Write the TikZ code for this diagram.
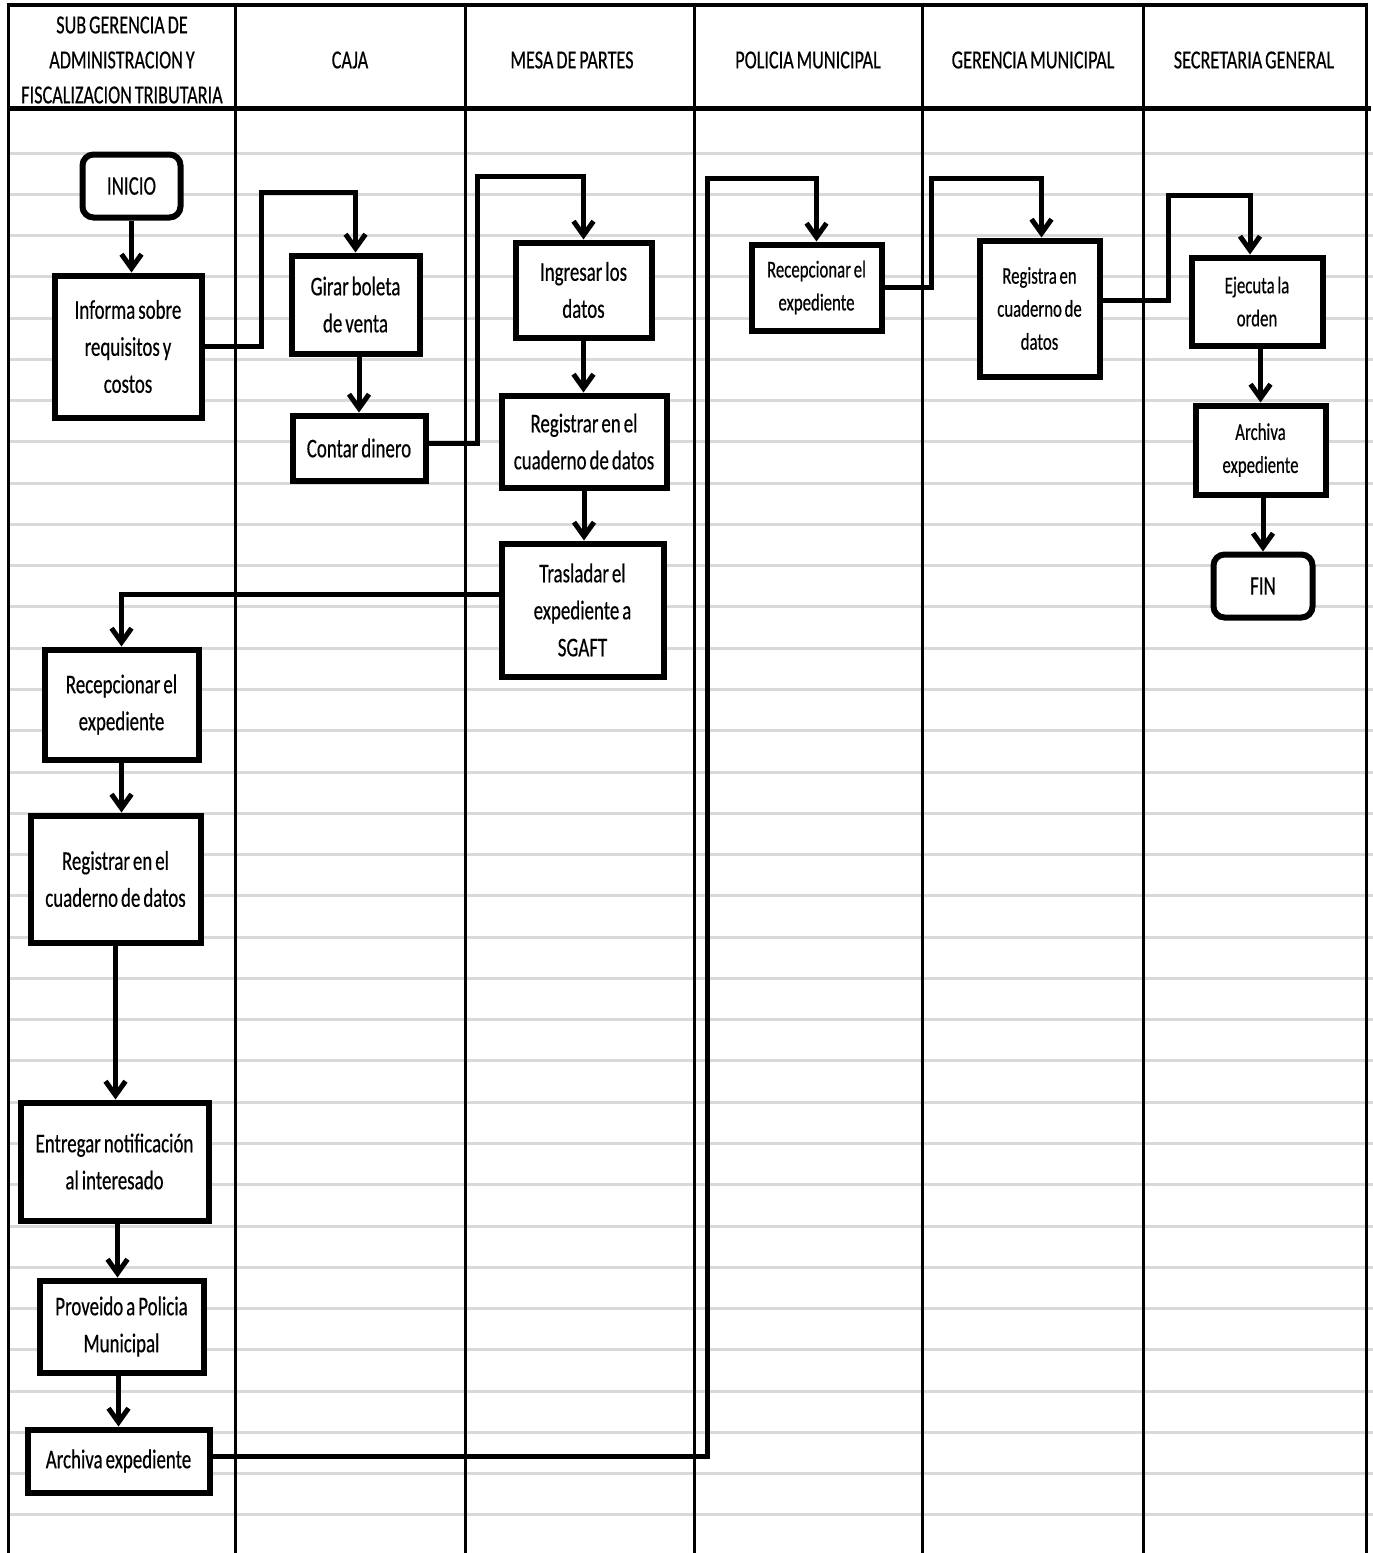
\documentclass[tikz,border=0pt]{standalone}
\usepackage{fontspec}
\setmainfont{Carlito}[FakeStretch=0.7, WordSpace=0.7, FakeBold=0.4]
\usetikzlibrary{arrows.meta}

\tikzset{
  gridline/.style={line width=3pt, draw=black!15},
  laneline/.style={line width=3pt, draw=black},
  headtext/.style={font=\fontsize{26}{35}\selectfont, align=center, inner sep=0pt},
  procbox/.style={draw=black, line width=6pt, fill=white, align=center, inner sep=0pt,
    font=\fontsize{27}{37}\selectfont},
  smallbox/.style={procbox, font=\fontsize{24}{33}\selectfont},
  termbox/.style={procbox, rounded corners=11pt},
  flow/.style={draw=black, line width=5pt,
    -{Straight Barb[length=14pt, width=20pt]}},
}

\begin{document}
\begin{tikzpicture}[x=1pt, y=-1pt]
\useasboundingbox (0,0) rectangle (1373,1553);
\fill[white] (0,0) rectangle (1373,1553);

% ruled background
\foreach \k in {0,...,33}
  \draw[gridline] (9,{153+41.27*\k}) -- (1373,{153+41.27*\k});

% swimlane frame
\foreach \xx in {8,235,465,694,922,1143,1366}
  \draw[laneline] (\xx,5) -- (\xx,1553);
\draw[line width=4pt] (6.5,5) -- (1367.5,5);
\draw[line width=5pt] (6.5,108) -- (1371,108);

% lane titles
\node[headtext] (h1) at (122,60) {SUB GERENCIA DE\\ADMINISTRACION Y\\FISCALIZACION TRIBUTARIA};
\node[headtext] (h2) at (350,60) {CAJA};
\node[headtext] (h3) at (572,60) {MESA DE PARTES};
\node[headtext] (h4) at (808,60) {POLICIA MUNICIPAL};
\node[headtext] (h5) at (1033,60) {GERENCIA MUNICIPAL};
\node[headtext] (h6) at (1254,60) {SECRETARIA GENERAL};

% process steps
\node[termbox, minimum width=98pt, minimum height=63pt] (inicio) at (131.5,186) {INICIO};
\node[procbox, minimum width=147pt, minimum height=142pt] (informa) at (128,346.5) {Informa sobre\\requisitos y\\costos};
\node[procbox, minimum width=128pt, minimum height=98pt] (girar) at (355.5,304.5) {Girar boleta\\de venta};
\node[procbox, minimum width=133pt, minimum height=65pt] (contar) at (359,448) {Contar dinero};
\node[procbox, minimum width=136pt, minimum height=95pt] (ingresar) at (583.5,290) {Ingresar los\\datos};
\node[procbox, minimum width=165pt, minimum height=92pt] (regmesa) at (584,441.5) {Registrar en el\\cuaderno de datos};
\node[procbox, minimum width=162pt, minimum height=133pt] (trasladar) at (582.5,610) {Trasladar el\\expediente a\\SGAFT};
\node[procbox, minimum width=154pt, minimum height=110pt] (recsg) at (121.5,704.5) {Recepcionar el\\expediente};
\node[procbox, minimum width=170pt, minimum height=127pt] (regsg) at (115.5,879) {Registrar en el\\cuaderno de datos};
\node[procbox, minimum width=188pt, minimum height=118pt] (entregar) at (114.5,1161.5) {Entregar notificación\\al interesado};
\node[procbox, minimum width=164pt, minimum height=92pt] (proveido) at (121.5,1326.5) {Proveido a Policia\\Municipal};
\node[procbox, minimum width=182pt, minimum height=63pt] (archsg) at (118.5,1461) {Archiva expediente};
\node[smallbox, minimum width=130pt, minimum height=86pt] (recpol) at (816.5,287.5) {Recepcionar el\\expediente};
\node[smallbox, minimum width=120pt, minimum height=136pt] (reggm) at (1039.5,308.5) {Registra en\\cuaderno de\\datos};
\node[smallbox, minimum width=131pt, minimum height=88pt] (ejecuta) at (1257,301.5) {Ejecuta la\\orden};
\node[smallbox, minimum width=130pt, minimum height=89pt] (archsec) at (1260.5,450) {Archiva\\expediente};
\node[termbox, minimum width=99pt, minimum height=63pt] (fin) at (1263,586) {FIN};

% flow
\draw[flow] (inicio.south) -- (inicio.south |- informa.north);
\draw[flow] (informa.east) -| (261,192) -| (girar.north);
\draw[flow] (girar.south -| contar.north) -- (contar.north);
\draw[flow] ([yshift=5pt]contar.east) -| (477,176) -| (ingresar.north);
\draw[flow] (ingresar.south) -- (ingresar.south |- regmesa.north);
\draw[flow] (regmesa.south) -- (regmesa.south |- trasladar.north);
\draw[flow] ([yshift=16pt]trasladar.west) -| (recsg.north);
\draw[flow] (recsg.south) -- (recsg.south |- regsg.north);
\draw[flow] (regsg.south) -- (regsg.south |- entregar.north);
\draw[flow] ([xshift=3pt]entregar.south) -- ([xshift=3pt]entregar.south |- proveido.north);
\draw[flow] (archsg.north |- proveido.south) -- (archsg.north);
\draw[flow] ([yshift=5pt]archsg.east) -| (707,178) -| (recpol.north);
\draw[flow] (recpol.east) -| (931,178) -| ([xshift=2pt]reggm.north);
\draw[flow] ([yshift=8.5pt]reggm.east) -| (1168,195) -| ([xshift=-7pt]ejecuta.north);
\draw[flow] (archsec.north |- ejecuta.south) -- (archsec.north);
\draw[flow] (fin.north |- archsec.south) -- (fin.north);
\end{tikzpicture}
\end{document}
